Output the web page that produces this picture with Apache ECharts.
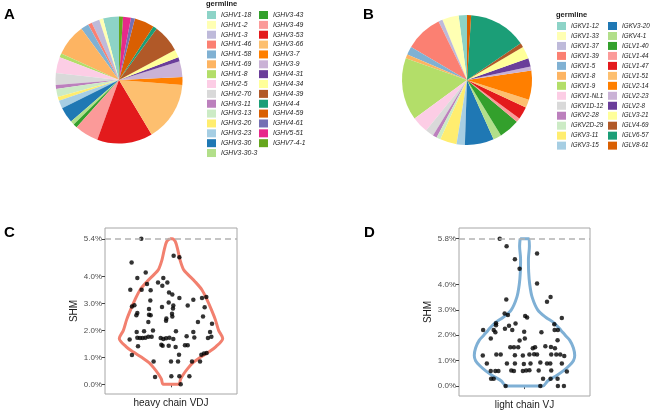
<!DOCTYPE html>
<html>
<head>
<meta charset="utf-8">
<script src="https://cdn.jsdelivr.net/npm/echarts@6/dist/echarts.min.js"></script>
<style>
  html, body { margin: 0; padding: 0; background: #fff; }
  #main { width: 650px; height: 412px; }
</style>
</head>
<body>
<div id="main"></div>
<script>
// 基因家族及计数（饼图）
var heavyGenes = ['IGHV1-18','IGHV1-2','IGHV1-3','IGHV1-46','IGHV1-58','IGHV1-69','IGHV1-8','IGHV2-5','IGHV2-70','IGHV3-11','IGHV3-13','IGHV3-20','IGHV3-23','IGHV3-30','IGHV3-30-3',
  'IGHV3-43','IGHV3-49','IGHV3-53','IGHV3-66','IGHV3-7','IGHV3-9','IGHV4-31','IGHV4-34','IGHV4-39','IGHV4-4','IGHV4-59','IGHV4-61','IGHV5-51','IGHV7-4-1'];
var heavyCounts = [4,1,2,1,2,8,1,4,3,1,2,1,2,4,1,1,6,14,15,2,4,1,2,7,1,5,1,2,1];

var lightGenes = ['IGKV1-12','IGKV1-33','IGKV1-37','IGKV1-39','IGKV1-5','IGKV1-8','IGKV1-9','IGKV1-NL1','IGKV1D-12','IGKV2-28','IGKV2D-29','IGKV3-11','IGKV3-15',
  'IGKV3-20','IGKV4-1','IGLV1-40','IGLV1-44','IGLV1-47','IGLV1-51','IGLV2-14','IGLV2-23','IGLV2-8','IGLV3-21','IGLV4-69','IGLV6-57','IGLV8-61'];
var lightCounts = [2,4,1,9,2,1,15,4,2,1,1,4,2,7,2,5,1,3,2,7,1,2,3,1,14,1];

var palette = ['#8DD3C7','#FFFFB3','#BEBADA','#FB8072','#80B1D3','#FDB462','#B3DE69','#FCCDE5','#D9D9D9','#BC80BD','#CCEBC5','#FFED6F',
  '#A6CEE3','#1F78B4','#B2DF8A','#33A02C','#FB9A99','#E31A1C','#FDBF6F','#FF7F00','#CAB2D6','#6A3D9A','#FFFF99','#B15928',
  '#1B9E77','#D95F02','#7570B3','#E7298A','#66A61E'];

// SHM 散点（y 为 SHM%，jitter 为横向偏移）
var heavyShm = [5.40,4.77,4.71,4.52,4.15,3.94,3.94,3.78,3.78,3.72,
  3.66,3.51,3.51,3.49,3.41,3.33,3.20,3.14,3.20,3.24,
  3.11,2.93,2.89,3.04,2.87,2.92,2.81,2.79,2.92,2.86,
  2.65,2.56,2.58,2.56,2.62,2.52,2.44,2.36,2.31,2.52,
  2.31,2.25,1.94,1.97,2.00,1.97,1.94,1.94,1.66,1.73,
  1.72,1.72,1.73,1.76,1.76,1.72,1.68,1.71,1.73,1.68,
  1.78,1.74,1.72,1.76,1.41,1.47,1.43,1.43,1.38,1.45,
  1.45,1.09,1.10,1.10,1.14,1.16,0.85,0.85,0.85,0.85,
  0.85,0.27,0.30,0.30,0.30,0.00];
var heavyJitter = [-0.270,0.024,0.076,-0.358,-0.230,-0.306,-0.070,-0.118,-0.033,-0.218,
  -0.079,-0.370,-0.267,-0.185,-0.018,0.012,0.076,0.203,0.282,0.321,
  -0.188,-0.333,-0.355,-0.021,-0.082,0.021,0.018,-0.200,0.152,0.306,
  -0.306,-0.315,-0.200,-0.185,0.009,0.012,-0.042,-0.045,-0.206,0.291,
  0.245,0.373,-0.312,-0.245,-0.164,0.045,0.203,0.355,-0.376,-0.306,
  -0.282,-0.258,-0.233,-0.206,-0.176,-0.094,-0.070,-0.045,-0.015,0.021,
  0.142,0.212,0.336,0.367,-0.300,-0.088,-0.076,-0.021,0.042,0.127,
  0.152,-0.355,0.073,0.276,0.300,0.324,0.264,0.191,0.064,0.000,
  -0.158,-0.145,0.003,0.076,0.167,0.088];

var lightShm = [5.80,5.50,5.22,4.99,4.62,4.04,3.41,3.51,3.32,2.86,
  2.80,2.76,2.70,2.68,2.21,2.47,2.39,2.21,2.12,2.37,
  2.21,2.46,2.26,2.43,2.21,2.21,2.14,2.12,1.87,1.79,
  1.87,1.80,1.53,1.53,1.53,1.49,1.53,1.57,1.54,1.49,
  1.20,1.24,1.24,1.21,1.20,1.24,1.25,1.24,1.24,1.24,
  1.24,1.18,0.89,0.89,0.89,0.87,0.89,0.93,0.89,0.89,
  0.89,0.59,0.59,0.59,0.61,0.59,0.59,0.61,0.62,0.61,
  0.61,0.57,0.29,0.29,0.29,0.29,0.29,0.00,0.00,0.00,
  0.00];
var lightJitter = [-0.227,-0.164,0.115,-0.088,-0.045,0.115,-0.167,0.239,0.206,-0.182,
  -0.152,0.006,0.024,0.342,-0.379,-0.261,-0.261,-0.282,-0.267,-0.142,
  -0.112,-0.082,-0.179,0.273,0.276,0.306,-0.003,0.155,-0.309,-0.045,
  0.003,0.303,-0.130,-0.097,-0.058,0.076,0.097,0.191,0.242,0.279,
  -0.382,-0.258,-0.218,-0.088,-0.015,0.045,0.088,0.115,0.245,0.291,
  0.327,0.364,-0.345,-0.161,-0.088,-0.006,0.055,0.145,0.206,0.236,
  0.342,-0.309,-0.267,-0.239,-0.121,-0.097,-0.015,0.015,0.045,0.130,
  0.245,0.388,-0.306,-0.282,0.170,0.239,0.303,-0.173,0.145,0.306,
  0.361];

// 小提琴轮廓：SHM 水平及半宽
var heavyLevels = [5.4,5.3,5.0,4.62,4.25,4.07,3.8,3.5,3.14,2.77,2.4,2.0,1.7,1.4,1.2,1.0,0.8,0.6,0.4,0.2,0.0];
var heavyHalfWidth = [0.01,0.039,0.061,0.082,0.115,0.155,0.221,0.282,0.327,0.367,0.403,0.433,0.47,0.409,0.342,0.267,0.2,0.155,0.118,0.088,0.07];
var lightLevels = [5.8,5.5,5.0,4.5,4.0,3.5,3.0,2.7,2.5,2.2,2.0,1.8,1.5,1.2,1.0,0.8,0.6,0.4,0.2,0.0];
var lightHalfWidth = [0.04,0.045,0.036,0.038,0.048,0.07,0.121,0.197,0.267,0.333,0.373,0.415,0.448,0.46,0.448,0.409,0.355,0.288,0.212,0.167];

var heavyTicks = [0,1,2,3,4,5.4];
var lightTicks = [0,1,2,3,4,5.8];

var font = 'Liberation Sans, Arial, sans-serif';

function pieData(names, counts) {
  return names.map(function (n, i) {
    return { name: n, value: counts[i], itemStyle: { color: palette[i] } };
  });
}
function outline(levels, hw) {
  var pts = [];
  for (var i = 0; i < levels.length; i++) pts.push([1 - hw[i], levels[i]]);
  for (var j = levels.length - 1; j >= 0; j--) pts.push([1 + hw[j], levels[j]]);
  pts.push(pts[0]);
  return pts;
}
function dots(shm, jit) {
  return shm.map(function (v, i) { return [1 + jit[i], v]; });
}
function legend(names, left, top, gap, fs) {
  return {
    data: names, orient: 'vertical', left: left, top: top, padding: 0,
    icon: 'rect', itemWidth: 9, itemHeight: 8, itemGap: gap, selectedMode: false,
    textStyle: { fontSize: fs, fontStyle: 'italic', color: '#1a1a1a', fontFamily: font }
  };
}
function yAx(idx, min, max, ticks) {
  return {
    type: 'value', gridIndex: idx, min: min, max: max,
    name: 'SHM', nameLocation: 'middle', nameGap: 26,
    nameTextStyle: { fontSize: 10, color: '#1a1a1a', fontFamily: font },
    axisLine: { show: false }, splitLine: { show: false },
    axisTick: { show: true, length: 3, customValues: ticks, lineStyle: { color: '#444' } },
    axisLabel: { customValues: ticks, fontSize: 8, color: '#4d4d4d', margin: 3, fontFamily: font,
      formatter: function (v) { return v.toFixed(1) + '%'; } }
  };
}
function xAx(idx, label) {
  return {
    type: 'value', gridIndex: idx, min: 0.4, max: 1.6,
    axisLine: { show: false }, splitLine: { show: false },
    axisTick: { show: true, length: 3, customValues: [1], lineStyle: { color: '#444' } },
    axisLabel: { customValues: [1], fontSize: 10, color: '#1a1a1a', margin: 4, fontFamily: font,
      formatter: function () { return label; } }
  };
}
function violin(idx, levels, hw, color, top) {
  return {
    type: 'line', xAxisIndex: idx, yAxisIndex: idx, data: outline(levels, hw),
    smooth: 0.3, symbol: 'none', silent: true, z: 2,
    lineStyle: { color: color, width: 3 },
    markLine: { silent: true, symbol: ['none', 'none'], label: { show: false },
      lineStyle: { type: [6, 4], color: '#b3b3b3', width: 1.5 }, data: [{ yAxis: top }] }
  };
}

var chart = echarts.init(document.getElementById('main'));
var option = {
  backgroundColor: '#fff',
  animation: false,
  legend: [
    legend(heavyGenes.slice(0, 15), 207, 11, 1.86, 6.8),
    legend(heavyGenes.slice(15), 259, 11, 1.86, 6.8),
    legend(lightGenes.slice(0, 13), 557, 22, 1.97, 6.3),
    legend(lightGenes.slice(13), 608, 22, 1.97, 6.3)
  ],
  graphic: [
    { type: 'text', left: 4, top: 7, style: { text: 'A', font: 'bold 15px ' + font, fill: '#000' } },
    { type: 'text', left: 363, top: 7, style: { text: 'B', font: 'bold 15px ' + font, fill: '#000' } },
    { type: 'text', left: 4, top: 225, style: { text: 'C', font: 'bold 15px ' + font, fill: '#000' } },
    { type: 'text', left: 364, top: 225, style: { text: 'D', font: 'bold 15px ' + font, fill: '#000' } },
    { type: 'text', left: 206, top: 0, style: { text: 'germline', font: 'bold 7.5px ' + font, fill: '#1a1a1a' } },
    { type: 'text', left: 556, top: 11, style: { text: 'germline', font: 'bold 7.5px ' + font, fill: '#1a1a1a' } }
  ],
  grid: [
    { left: 105, top: 228, width: 132, height: 166, show: true, borderColor: '#a6a6a6', borderWidth: 1, backgroundColor: '#fff' },
    { left: 459, top: 228, width: 131, height: 168, show: true, borderColor: '#a6a6a6', borderWidth: 1, backgroundColor: '#fff' }
  ],
  xAxis: [xAx(0, 'heavy chain VDJ'), xAx(1, 'light chain VJ')],
  yAxis: [yAx(0, -0.36, 5.8, heavyTicks), yAx(1, -0.39, 6.22, lightTicks)],
  series: [
    { type: 'pie', center: [119, 80], radius: 63.5, startAngle: 90, clockwise: false,
      label: { show: false }, labelLine: { show: false }, silent: true,
      itemStyle: { borderWidth: 0 }, data: pieData(heavyGenes, heavyCounts) },
    { type: 'pie', center: [467, 80], radius: 65, startAngle: 90, clockwise: false,
      label: { show: false }, labelLine: { show: false }, silent: true,
      itemStyle: { borderWidth: 0 }, data: pieData(lightGenes, lightCounts) },
    violin(0, heavyLevels, heavyHalfWidth, '#F2806F', 5.4),
    violin(1, lightLevels, lightHalfWidth, '#7FB0D5', 5.8),
    { type: 'scatter', xAxisIndex: 0, yAxisIndex: 0, data: dots(heavyShm, heavyJitter),
      symbolSize: 4.5, itemStyle: { color: '#000' }, silent: true, z: 3 },
    { type: 'scatter', xAxisIndex: 1, yAxisIndex: 1, data: dots(lightShm, lightJitter),
      symbolSize: 4.5, itemStyle: { color: '#000' }, silent: true, z: 3 }
  ]
};
chart.setOption(option);
</script>
</body>
</html>
